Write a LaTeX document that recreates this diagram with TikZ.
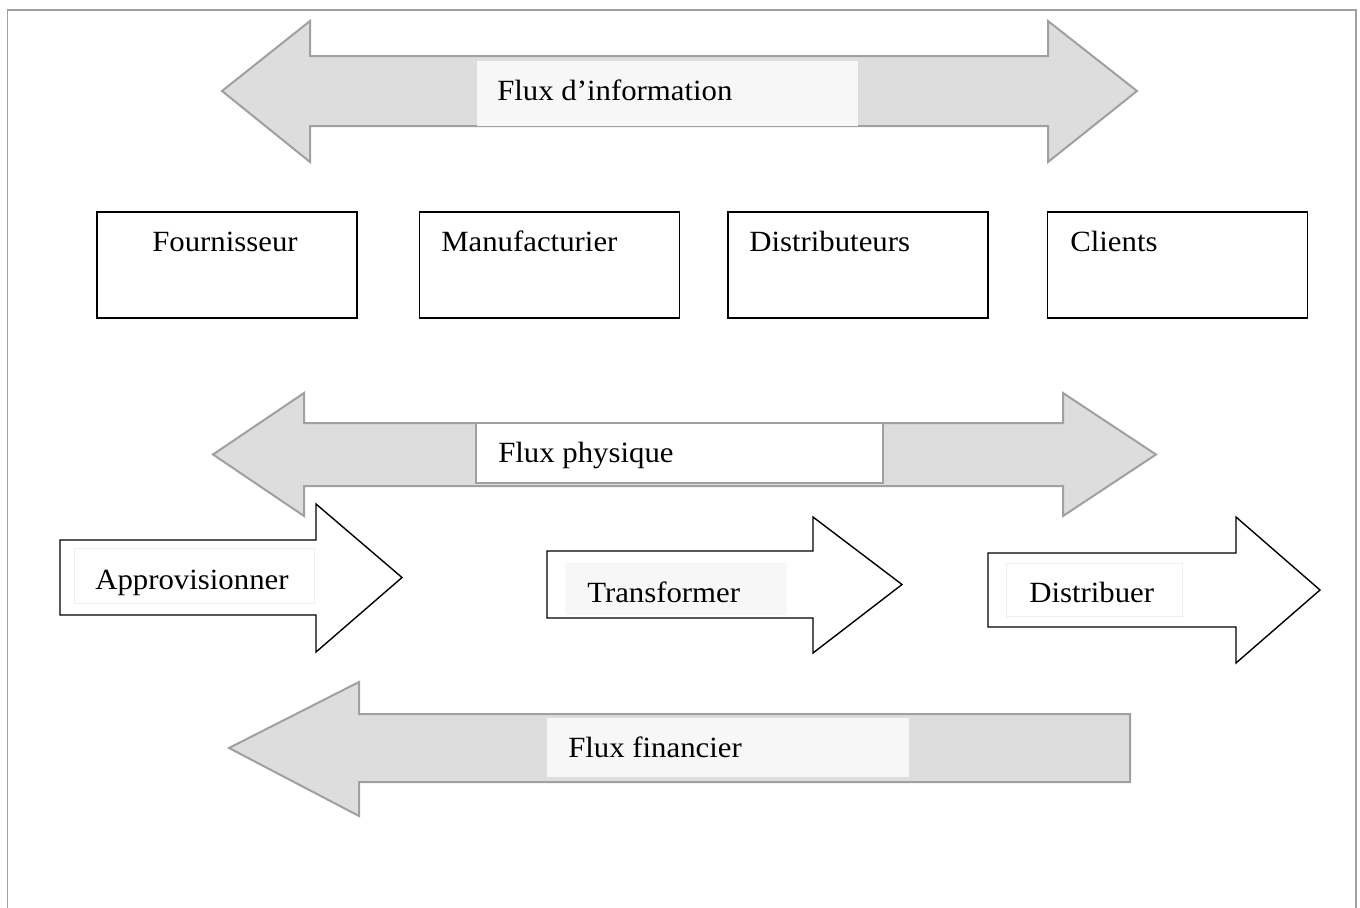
\documentclass[tikz,border=0pt]{standalone}
\usepackage{fontspec}
\setmainfont{Liberation Serif}[FakeStretch=1.05]
\definecolor{arrowfill}{HTML}{DDDDDD}
\definecolor{arrowline}{HTML}{A0A0A0}
\definecolor{framegray}{HTML}{A0A0A0}
\definecolor{tagfill}{HTML}{F7F7F7}
\definecolor{tagline}{HTML}{EFEFEF}
\begin{document}
\begin{tikzpicture}[x=0.75pt,y=-0.75pt,
  grayarrow/.style={fill=arrowfill, draw=arrowline, line width=1.5pt, line join=miter},
  whitearrow/.style={fill=white, draw=black, line width=1.05pt, line join=miter},
  actor/.style={draw=black, line width=1.2pt, fill=white, minimum width=195pt, minimum height=79.5pt, inner sep=0pt},
  lbl/.style={anchor=base west, inner sep=0pt, font=\fontsize{22}{26}\selectfont},
  frameline/.style={draw=framegray, line width=1.4pt}]
\useasboundingbox (0,0) rectangle (1360,907);
% outer frame, open at the bottom
\draw[frameline] (7.5,920) -- (7.5,10) -- (1356,10) -- (1356,920);

% information flow (double arrow)
\draw[grayarrow] (222,91) -- (310,21) -- (310,56) -- (1048,56) -- (1048,21) -- (1137,91)
  -- (1048,162) -- (1048,126) -- (310,126) -- (310,162) -- cycle;
\fill[tagfill] (477,61) rectangle (858,126);
\node[lbl] (info) at (497,100) {Flux d’information};

% supply chain actors
\node[actor] (fourn) at (227,265) {};
\node[actor] (manuf) at (549.5,265) {};
\node[actor] (distr) at (858,265) {};
\node[actor] (client) at (1177.5,265) {};
\node[lbl] (tfourn) at (152,251) {Fournisseur};
\node[lbl] (tmanuf) at (441,251) {Manufacturier};
\node[lbl] (tdistr) at (749,251) {Distributeurs};
\node[lbl] (tclient) at (1070,251) {Clients};

% physical flow (double arrow)
\draw[grayarrow] (213,454.5) -- (304,393) -- (304,423) -- (1063,423) -- (1063,393) -- (1156,454.5)
  -- (1063,516) -- (1063,486) -- (304,486) -- (304,516) -- cycle;
\draw[fill=white, draw=arrowline, line width=1pt] (476,423) rectangle (883,483);
\node[lbl] (phys) at (498,462) {Flux physique};

% process steps
\draw[whitearrow] (60,540) -- (316,540) -- (316,504) -- (402,577.5) -- (316,652) -- (316,615) -- (60,615) -- cycle;
\draw[fill=white, draw=tagline, line width=0.6pt] (74,548) rectangle (314,603);
\node[lbl] (appro) at (95,589) {Approvisionner};

\draw[whitearrow] (547,551) -- (813,551) -- (813,517) -- (902,584.5) -- (813,653) -- (813,618) -- (547,618) -- cycle;
\fill[tagfill] (565,563) rectangle (787,615);
\node[lbl] (transf) at (587,602) {Transformer};

\draw[whitearrow] (988,553) -- (1236,553) -- (1236,517) -- (1320,590) -- (1236,663) -- (1236,627) -- (988,627) -- cycle;
\draw[fill=white, draw=tagline, line width=0.6pt] (1006,563) rectangle (1182,616);
\node[lbl] (distrib) at (1029,602) {Distribuer};

% financial flow (single arrow, pointing left)
\draw[grayarrow] (229,748) -- (359,682) -- (359,714) -- (1130,714) -- (1130,782) -- (359,782) -- (359,816) -- cycle;
\fill[tagfill] (547,718) rectangle (909,777);
\node[lbl] (fin) at (568,757) {Flux financier};
\end{tikzpicture}
\end{document}
